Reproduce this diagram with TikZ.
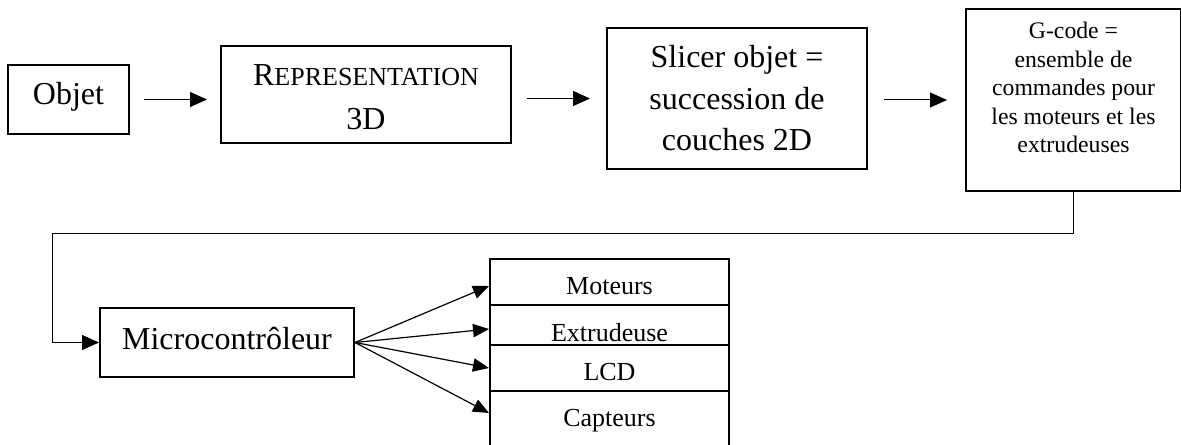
\documentclass[tikz,border=0pt]{standalone}
\usepackage{fontspec}
\setmainfont{Liberation Serif}
\usetikzlibrary{arrows.meta}

% one drawing unit = 0.75pt
\newdimen\pxu \pxu=0.75pt

% #1 width, #2 height, #3 first baseline from top, #4 line spacing, #5 lines
\newcommand\boxtext[5]{%
  \parbox[c][#2\pxu][t]{#1\pxu}{%
    \parskip=0pt\lineskiplimit=-\maxdimen
    \baselineskip=#4\pxu\centering
    \vskip\dimexpr#3\pxu-#4\pxu\relax\hbox{}#5\par}}

\tikzset{
  bx/.style={draw, line width=1.5pt, inner sep=0pt, anchor=north west},
  bigtxt/.style={font=\fontsize{24pt}{29pt}\selectfont},
  midtxt/.style={font=\fontsize{19.5pt}{23pt}\selectfont},
  smalltxt/.style={font=\fontsize{17.8pt}{21pt}\selectfont},
  arr/.style={line width=0.75pt, -{Triangle[length=12.75pt,width=11.25pt]}},
  fan/.style={line width=0.9pt, -{Triangle[length=12pt,width=10pt]}},
}

\begin{document}
\begin{tikzpicture}[x=0.75pt, y=-0.75pt]
\useasboundingbox (0,0) rectangle (1181,445);

% top chain
\node[bx, bigtxt] (obj) at (7,64) {\boxtext{121}{69}{40}{40}{Objet}};
\node[bx, bigtxt] (rep) at (220,45)
  {\boxtext{290}{97}{40}{44}{R{\fontsize{19.5pt}{19.5pt}\selectfont EPRESENTATION}\\3D}};
\node[bx, bigtxt] (slc) at (606,27)
  {\boxtext{260}{141}{40}{41.5}{Slicer objet =\\succession de\\couches 2D}};
\node[bx, smalltxt] (gc) at (965,8)
  {\boxtext{215}{182}{30}{28.5}{G-code =\\ensemble de\\commandes pour\\les moteurs et les\\extrudeuses}};

% controller and its peripherals
\node[bx, bigtxt] (mcu) at (99,307) {\boxtext{254}{69}{41}{40}{Microcontrôleur}};
\node[bx, midtxt] (mot) at (489,258) {\boxtext{239}{46}{36}{30}{Moteurs}};
\node[bx, midtxt] (ext) at (489,304) {\boxtext{239}{40}{36}{30}{Extrudeuse}};
\node[bx, midtxt] (lcd) at (489,344) {\boxtext{239}{46}{35}{30}{LCD}};
\node[bx, midtxt] (cap) at (489,390) {\boxtext{239}{58}{35}{30}{Capteurs}};

% chain arrows
\draw[arr, shorten <=14\pxu, shorten >=13\pxu] (obj.east) -- (obj.east -| rep.west);
\draw[arr, shorten <=15\pxu, shorten >=16\pxu] (slc.west -| rep.east) -- (slc.west);
\draw[arr, shorten <=16\pxu, shorten >=18\pxu] (gc.west -| slc.east) -- (gc.west);

% feedback line from G-code to the controller
\coordinate (bend) at (52,234);
\draw[arr] (gc.south) |- (bend) |- (mcu.west);

% fan-out to the peripherals
\draw[fan] (mcu.east) -- ([yshift=-3pt]mot.west);
\draw[fan] (mcu.east) -- ([yshift=-3pt]ext.west);
\draw[fan] (mcu.east) -- (lcd.west);
\draw[fan] (mcu.east) -- ([yshift=5.25pt]cap.west);
\end{tikzpicture}
\end{document}
